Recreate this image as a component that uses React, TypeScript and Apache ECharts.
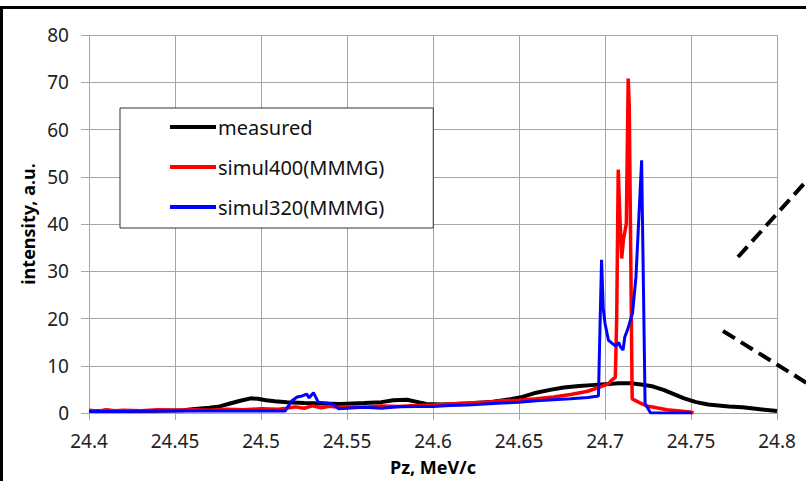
import React, { useEffect, useRef } from "react";
import * as echarts from "echarts";

// ---- data ----
const xTicks = [24.4, 24.45, 24.5, 24.55, 24.6, 24.65, 24.7, 24.75, 24.8];
const yTicks = [0, 10, 20, 30, 40, 50, 60, 70, 80];

const measuredX = [24.4, 24.42, 24.44, 24.455, 24.46, 24.47, 24.476, 24.482, 24.488, 24.494, 24.498, 24.503, 24.508, 24.515, 24.525, 24.535, 24.546, 24.56, 24.57, 24.577, 24.585, 24.59, 24.596, 24.605, 24.62, 24.635, 24.645, 24.652, 24.66, 24.668, 24.676, 24.685, 24.692, 24.7, 24.708, 24.715, 24.722, 24.728, 24.734, 24.74, 24.746, 24.753, 24.76, 24.772, 24.78, 24.79, 24.8];
const measuredY = [0.4, 0.4, 0.5, 0.6, 0.8, 1.1, 1.4, 2.0, 2.6, 3.1, 3.0, 2.7, 2.5, 2.3, 2.1, 2.0, 1.9, 2.1, 2.3, 2.7, 2.8, 2.4, 1.9, 1.8, 2.0, 2.4, 2.9, 3.4, 4.3, 4.9, 5.4, 5.7, 5.9, 6.1, 6.3, 6.3, 6.0, 5.6, 4.9, 4.0, 3.1, 2.3, 1.8, 1.4, 1.2, 0.8, 0.4];

const simul400X = [24.4, 24.405, 24.41, 24.415, 24.42, 24.43, 24.44, 24.45, 24.46, 24.47, 24.48, 24.49, 24.5, 24.51, 24.515, 24.52, 24.525, 24.53, 24.535, 24.54, 24.545, 24.55, 24.56, 24.57, 24.58, 24.59, 24.6, 24.61, 24.62, 24.63, 24.64, 24.65, 24.66, 24.67, 24.68, 24.69, 24.697, 24.702, 24.704, 24.706, 24.7068, 24.7077, 24.7086, 24.7097, 24.7107, 24.7124, 24.7135, 24.7141, 24.7158, 24.72, 24.7242, 24.73, 24.736, 24.742, 24.7494, 24.7515];
const simul400Y = [0.6, 0.4, 0.7, 0.5, 0.6, 0.5, 0.7, 0.6, 0.7, 0.6, 0.8, 0.7, 0.9, 0.8, 1.0, 1.3, 1.0, 1.5, 1.1, 1.4, 1.2, 1.3, 1.2, 1.5, 1.4, 1.6, 1.7, 1.9, 2.1, 2.3, 2.6, 2.7, 3.0, 3.4, 3.9, 4.6, 5.5, 6.2, 7.0, 7.5, 20, 51.5, 42, 32.7, 36.6, 40.1, 70.8, 65, 3.0, 2.2, 1.5, 1.1, 0.7, 0.5, 0.2, 0];

const simul320X = [24.4, 24.42, 24.44, 24.46, 24.48, 24.5, 24.514, 24.516, 24.518, 24.521, 24.524, 24.5266, 24.528, 24.5305, 24.5333, 24.538, 24.542, 24.545, 24.55, 24.56, 24.57, 24.58, 24.59, 24.6, 24.61, 24.62, 24.63, 24.64, 24.65, 24.66, 24.67, 24.68, 24.69, 24.6962, 24.6972, 24.698, 24.699, 24.7, 24.702, 24.704, 24.706, 24.708, 24.709, 24.7105, 24.7115, 24.713, 24.716, 24.718, 24.7213, 24.7233, 24.7265, 24.7505];
const simul320Y = [0.3, 0.3, 0.4, 0.4, 0.4, 0.4, 0.4, 1.5, 2.6, 3.4, 3.6, 4.0, 3.2, 4.3, 2.3, 2.1, 1.9, 0.9, 1.0, 1.2, 1.0, 1.3, 1.4, 1.4, 1.6, 1.7, 1.9, 2.1, 2.3, 2.6, 2.8, 3.0, 3.3, 3.6, 20, 32.4, 22, 19, 15.4, 14.8, 14.2, 14.9, 14.0, 13.3, 16.1, 17.5, 21.1, 28.8, 53.5, 2.0, 0, 0];

const seriesNames = ["measured", "simul400(MMMG)", "simul320(MMMG)"];
const seriesColors = ["#000000", "#ff0000", "#0000ff"];

const zip = (xs: number[], ys: number[]) => xs.map((x, i) => [x, ys[i]]);

export default function App() {
  const ref = useRef<HTMLDivElement>(null);

  useEffect(() => {
    if (!ref.current) return;
    const chart = echarts.init(ref.current, null, { renderer: "svg" });
    const font = "'Noto Sans', sans-serif";
    const gridColor = "#a6a6a6";
    chart.setOption({
      animation: false,
      backgroundColor: "#ffffff",
      grid: { left: 89, right: 29, top: 35, bottom: 68, containLabel: false },
      xAxis: {
        type: "value",
        min: xTicks[0],
        max: xTicks[xTicks.length - 1],
        interval: 0.05,
        name: "Pz, MeV/c",
        nameLocation: "middle",
        nameGap: 45,
        nameTextStyle: { fontFamily: font, fontSize: 18, fontWeight: "bold", color: "#000" },
        axisLine: { show: true, lineStyle: { color: gridColor, width: 1 } },
        axisTick: { show: true, length: 7, lineStyle: { color: gridColor } },
        axisLabel: {
          margin: 18,
          fontFamily: font,
          fontSize: 19,
          color: "#222",
          formatter: (v: number) => String(Number(v.toFixed(2))),
        },
        splitLine: { show: true, lineStyle: { color: gridColor, width: 1 } },
      },
      yAxis: {
        type: "value",
        min: yTicks[0],
        max: yTicks[yTicks.length - 1],
        interval: 10,
        axisLine: { show: true, lineStyle: { color: gridColor, width: 1 } },
        axisTick: { show: true, length: 8, lineStyle: { color: gridColor } },
        axisLabel: { margin: 20, fontFamily: font, fontSize: 19, color: "#222" },
        splitLine: { show: true, lineStyle: { color: gridColor, width: 1 } },
      },
      legend: {
        left: 120,
        top: 108,
        orient: "vertical",
        icon: "rect",
        itemWidth: 46,
        itemHeight: 4,
        itemGap: 20,
        padding: [9, 49, 11, 50],
        backgroundColor: "#ffffff",
        borderColor: "#333",
        borderWidth: 1,
        borderRadius: 0,
        textStyle: { fontFamily: font, fontSize: 20, color: "#111", padding: [0, 0, 0, -3], lineHeight: 20 },
        data: seriesNames,
      },
      series: [
        {
          name: seriesNames[0],
          type: "line",
          data: zip(measuredX, measuredY),
          symbol: "none",
          lineStyle: { color: seriesColors[0], width: 4 },
          itemStyle: { color: seriesColors[0] },
          z: 2,
        },
        {
          name: seriesNames[1],
          type: "line",
          data: zip(simul400X, simul400Y),
          symbol: "none",
          lineStyle: { color: seriesColors[1], width: 3.5 },
          itemStyle: { color: seriesColors[1] },
          z: 3,
        },
        {
          name: seriesNames[2],
          type: "line",
          data: zip(simul320X, simul320Y),
          symbol: "none",
          lineStyle: { color: seriesColors[2], width: 3 },
          itemStyle: { color: seriesColors[2] },
          z: 4,
        },
      ],
      graphic: [
        {
          type: "rect",
          shape: { x: 1.5, y: 7.5, width: 900, height: 600 },
          style: { fill: "none", stroke: "#000", lineWidth: 3 },
          silent: true,
          z: 100,
        },
        {
          type: "text",
          x: 28,
          y: 224,
          rotation: Math.PI / 2,
          style: {
            text: "intensity, a.u.",
            fontFamily: font,
            fontSize: 18,
            fontWeight: "bold",
            fill: "#000",
            textAlign: "center",
            textVerticalAlign: "middle",
          },
        },
        {
          type: "line",
          shape: { x1: 738, y1: 257, x2: 810, y2: 177 },
          style: { stroke: "#000", lineWidth: 4, lineDash: [14, 7] },
          z: 100,
        },
        {
          type: "line",
          shape: { x1: 723, y1: 331, x2: 810, y2: 385 },
          style: { stroke: "#000", lineWidth: 4, lineDash: [14, 7] },
          z: 100,
        },
      ],
    });
    return () => chart.dispose();
  }, []);

  return (
    <div
      ref={ref}
      style={{ position: "absolute", left: 0, top: 0, width: 806, height: 481 }}
    />
  );
}
